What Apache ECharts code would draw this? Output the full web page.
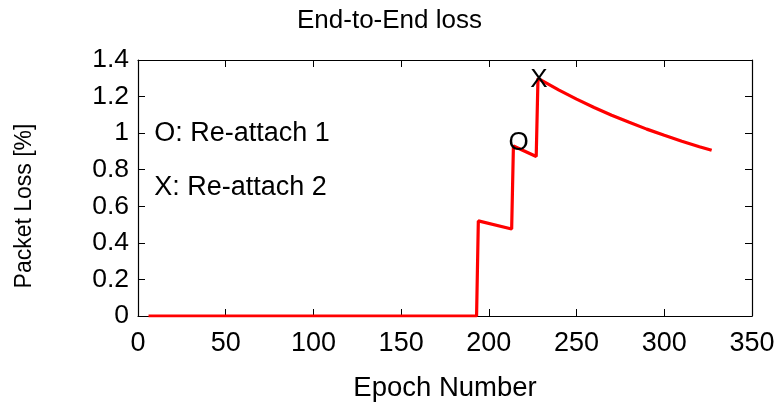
<!DOCTYPE html>
<html>
<head>
<meta charset="utf-8">
<script src="https://cdn.jsdelivr.net/npm/echarts@6/dist/echarts.min.js"></script>
<style>
  html, body { margin: 0; padding: 0; background: #fff; }
  #chart { width: 779px; height: 403px; }
</style>
</head>
<body>
<div id="chart"></div>
<script>
// End-to-end packet loss per epoch
const epochs   = [6, 193, 194, 213, 214, 227, 228, 240, 250, 260, 270, 280, 290, 300, 310, 320, 327];
const lossPct  = [0, 0, 0.52, 0.476, 0.93, 0.872, 1.30, 1.235, 1.186, 1.140, 1.098, 1.059, 1.022, 0.988, 0.956, 0.926, 0.906];

// Re-attach markers placed on the curve
const markerEpochs = [217, 228.5];
const markerValues = [0.945, 1.29];
const markerText   = ['O', 'X'];

// Notes inside the plot
const noteEpochs = [9, 9];
const noteValues = [1.0, 0.7];
const noteText   = ['O: Re-attach 1', 'X: Re-attach 2'];

const xTicks = { min: 0, max: 350, interval: 50 };
const yTicks = { min: 0, max: 1.4, interval: 0.2 };

const FONT = '"Liberation Sans", Arial, sans-serif';

const chart = echarts.init(document.getElementById('chart'), null, { renderer: 'canvas' });

const tickStyle = { show: true, inside: true, length: 7, lineStyle: { color: '#000', width: 1 } };
const lineStyle = { show: true, onZero: false, lineStyle: { color: '#000', width: 1.2 } };

// Text-only scatter points (invisible symbol, fully opaque label)
function textPoints(name, xs, ys, texts, label) {
  return {
    name: name,
    type: 'scatter',
    silent: true,
    symbolSize: 1,
    itemStyle: { color: 'rgba(0,0,0,0)', opacity: 1 },
    data: xs.map((e, i) => ({ value: [e, ys[i]], name: texts[i] })),
    label: Object.assign({ show: true, formatter: p => p.name, fontFamily: FONT, color: '#000', opacity: 1 }, label),
    z: 4
  };
}

chart.setOption({
  animation: false,
  backgroundColor: '#fff',
  title: {
    text: 'End-to-End loss',
    left: 'center',
    top: 3,
    textStyle: { fontFamily: FONT, fontSize: 26, fontWeight: 'normal', color: '#000' }
  },
  grid: { left: 138, right: 27, top: 60, bottom: 87, containLabel: false, outerBoundsMode: 'none' },
  xAxis: [{
    type: 'value',
    position: 'bottom',
    min: xTicks.min, max: xTicks.max, interval: xTicks.interval,
    name: 'Epoch Number',
    nameLocation: 'middle',
    nameGap: 58,
    nameTextStyle: { fontFamily: FONT, fontSize: 27.5, color: '#000' },
    axisLine: lineStyle,
    axisTick: tickStyle,
    axisLabel: { fontFamily: FONT, fontSize: 27, color: '#000', margin: 14 },
    splitLine: { show: false }
  }, {
    type: 'value',
    position: 'top',
    min: xTicks.min, max: xTicks.max, interval: xTicks.interval,
    axisLine: lineStyle,
    axisTick: tickStyle,
    axisLabel: { show: false },
    splitLine: { show: false }
  }],
  yAxis: [{
    type: 'value',
    position: 'left',
    min: yTicks.min, max: yTicks.max, interval: yTicks.interval,
    name: 'Packet Loss [%]',
    nameLocation: 'middle',
    nameGap: 102,
    nameTextStyle: { fontFamily: FONT, fontSize: 23, color: '#000', padding: [0, 36, 0, 0] },
    axisLine: lineStyle,
    axisTick: tickStyle,
    axisLabel: { fontFamily: FONT, fontSize: 26.5, color: '#000', margin: 9 },
    splitLine: { show: false }
  }, {
    type: 'value',
    position: 'right',
    min: yTicks.min, max: yTicks.max, interval: yTicks.interval,
    axisLine: lineStyle,
    axisTick: tickStyle,
    axisLabel: { show: false },
    splitLine: { show: false }
  }],
  series: [{
    name: 'loss',
    type: 'line',
    data: epochs.map((e, i) => [e, lossPct[i]]),
    showSymbol: false,
    symbol: 'none',
    lineStyle: { color: '#ff0000', width: 3.2 },
    z: 3
  },
  textPoints('markers', markerEpochs, markerValues, markerText, { position: 'inside', fontSize: 26 }),
  textPoints('notes', noteEpochs, noteValues, noteText, { position: 'right', distance: 0, fontSize: 27 })
  ]
});
</script>
</body>
</html>
